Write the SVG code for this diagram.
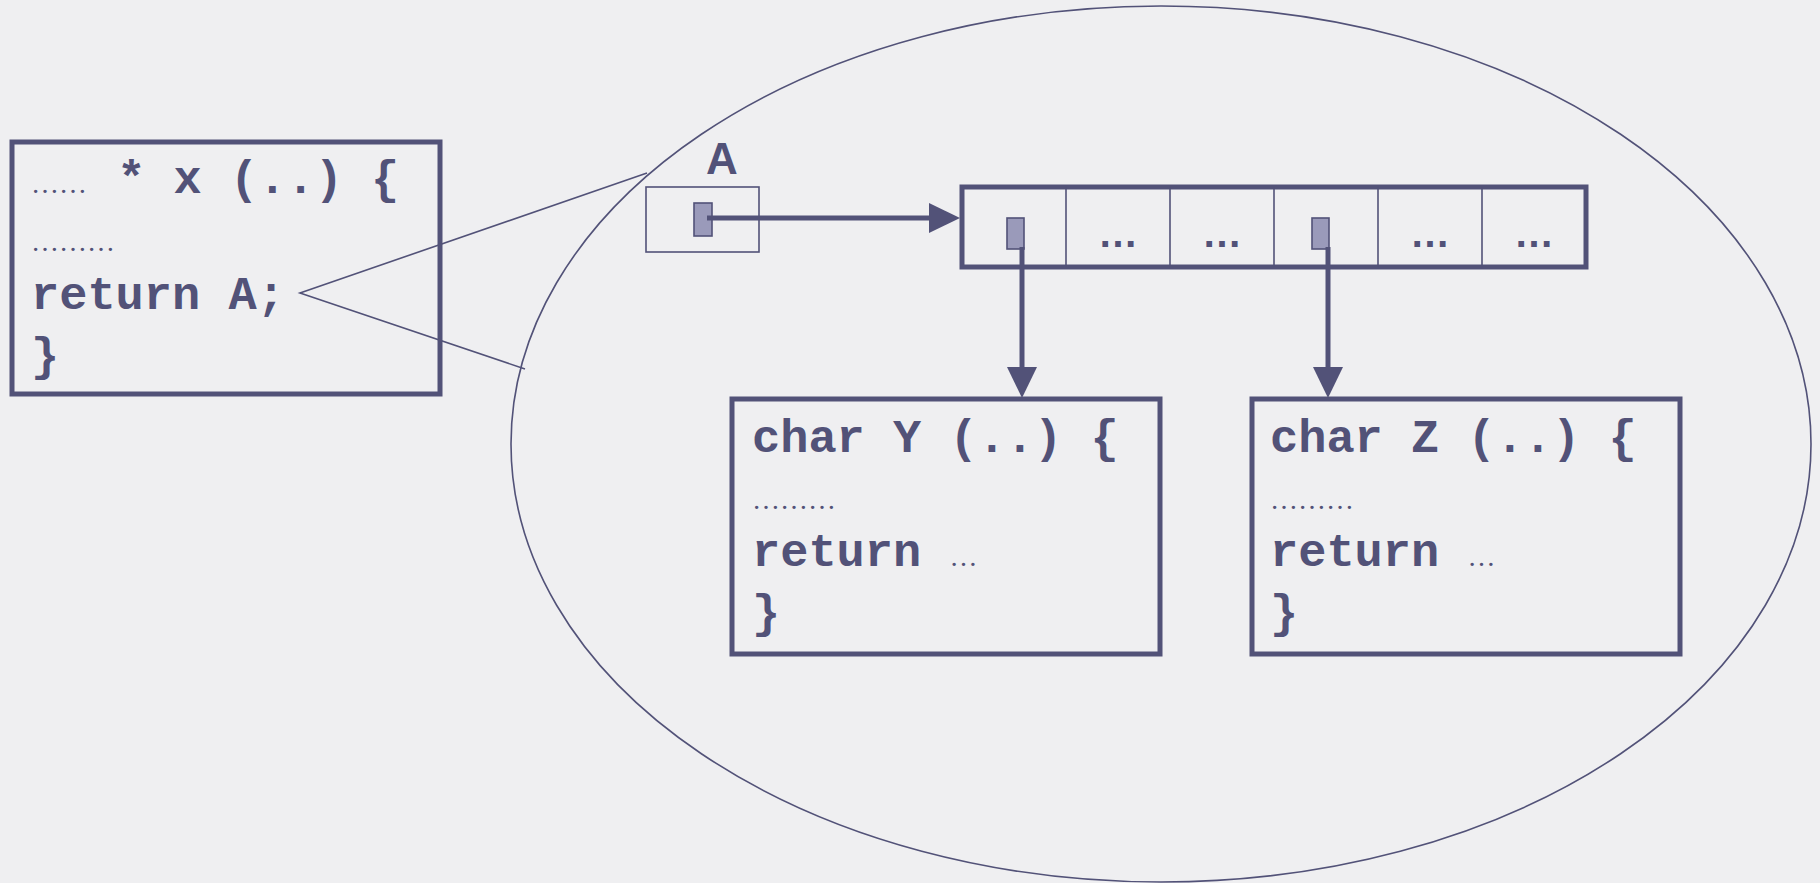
<svg xmlns="http://www.w3.org/2000/svg" width="1820" height="883" viewBox="0 0 1820 883">
  <style>
    .box { fill: none; stroke: #525278; stroke-width: 5; }
    .thin { fill: none; stroke: #525278; stroke-width: 1.6; }
    .ptr { fill: #9a9aba; stroke: #525278; stroke-width: 1.6; }
    .code { font-family: "Liberation Mono", "Courier New", monospace; font-weight: bold; font-size: 47px; fill: #525278; }
    .dots { font-family: "Liberation Serif", "Times New Roman", serif; font-size: 28px; fill: #525278; }
    .cell { font-family: "Liberation Sans", Arial, sans-serif; font-weight: bold; font-size: 40px; fill: #525278; text-anchor: middle; }
    .lbl { font-family: "Liberation Sans", Arial, sans-serif; font-weight: bold; font-size: 44px; fill: #525278; text-anchor: middle; }
    .conn { fill: none; stroke: #525278; stroke-width: 5; }
  </style>
  <defs>
    <marker id="arrow" markerUnits="userSpaceOnUse" markerWidth="32" markerHeight="32" viewBox="0 0 32 32" refX="1" refY="16" orient="auto">
      <path d="M0,1 L31,16 L0,31 z" fill="#525278"/>
    </marker>
  </defs>
  <rect x="0" y="0" width="1820" height="883" fill="#efeff1"/>

  <g id="scope-ellipse">
    <ellipse cx="1161" cy="444" rx="650" ry="438" class="thin"/>
  </g>

  <g id="func-x">
    <rect x="12" y="142" width="428" height="252" class="box"/>
    <text y="193"><tspan x="31" class="dots">……</tspan><tspan x="89" class="code" xml:space="preserve"> * x (..) {</tspan></text>
    <text x="31" y="251" class="dots">………</text>
    <text x="31" y="309" class="code">return A;</text>
    <text x="31" y="370" class="code">}</text>
  </g>

  <g id="callout">
    <polyline points="647,173 300,293 525,369" class="thin"/>
  </g>

  <g id="var-A">
    <text x="722" y="174" class="lbl">A</text>
    <rect x="646" y="187" width="113" height="65" class="thin"/>
    <rect x="694" y="203" width="18" height="33" class="ptr"/>
  </g>

  <g id="array">
    <rect x="962" y="187" width="624" height="80" class="box" stroke-width="6"/>
    <g class="thin" stroke-width="2.2">
      <line x1="1066" y1="187" x2="1066" y2="267"/>
      <line x1="1170" y1="187" x2="1170" y2="267"/>
      <line x1="1274" y1="187" x2="1274" y2="267"/>
      <line x1="1378" y1="187" x2="1378" y2="267"/>
      <line x1="1482" y1="187" x2="1482" y2="267"/>
    </g>
    <rect x="1007" y="218" width="17" height="31" class="ptr"/>
    <rect x="1312" y="218" width="17" height="31" class="ptr"/>
    <text x="1118" y="247" class="cell">…</text>
    <text x="1222" y="247" class="cell">…</text>
    <text x="1430" y="247" class="cell">…</text>
    <text x="1534" y="247" class="cell">…</text>
  </g>

  <g id="func-Y">
    <rect x="732" y="399" width="428" height="255" class="box"/>
    <text x="752" y="452" class="code" xml:space="preserve">char Y (..) {</text>
    <text x="752" y="509" class="dots">………</text>
    <text y="566"><tspan x="752" class="code" xml:space="preserve">return </tspan><tspan class="dots">…</tspan></text>
    <text x="752" y="627" class="code">}</text>
  </g>

  <g id="func-Z">
    <rect x="1252" y="399" width="428" height="255" class="box"/>
    <text x="1270" y="452" class="code" xml:space="preserve">char Z (..) {</text>
    <text x="1270" y="509" class="dots">………</text>
    <text y="566"><tspan x="1270" class="code" xml:space="preserve">return </tspan><tspan class="dots">…</tspan></text>
    <text x="1270" y="627" class="code">}</text>
  </g>

  <g id="connectors">
    <line x1="707" y1="218" x2="930" y2="218" class="conn" marker-end="url(#arrow)"/>
    <line x1="1022" y1="247" x2="1022" y2="368" class="conn" marker-end="url(#arrow)"/>
    <line x1="1328" y1="247" x2="1328" y2="368" class="conn" marker-end="url(#arrow)"/>
  </g>
</svg>
